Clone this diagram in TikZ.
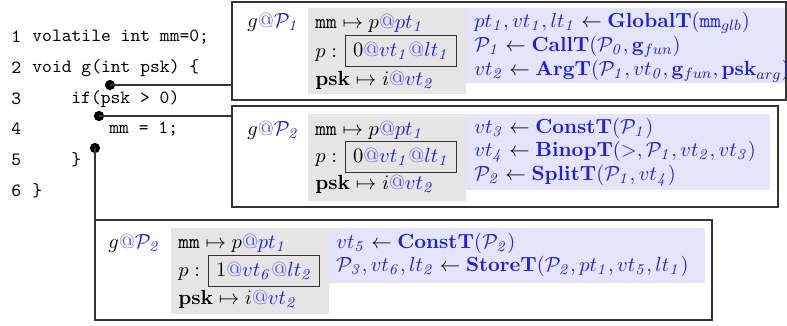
\documentclass[tikz,border=0pt]{standalone}
\usepackage{amsmath,amssymb}
\definecolor{varblue}{RGB}{30,30,225}
\definecolor{atblue}{RGB}{80,80,240}
\definecolor{lavbg}{RGB}{228,228,252}
\definecolor{greybg}{RGB}{229,229,229}
\newcommand{\tat}{\mathord{\textcolor{atblue}{@}}}
\newcommand{\bv}[1]{\textcolor{varblue}{#1}}
\newcommand{\sbi}[1]{_{\mathit{#1}}}
\newcommand{\Pc}[1]{\mathcal{P}\sbi{#1}}
\newcommand{\mapl}[2]{#1 \mapsto #2}
\newcommand{\mfont}{\fontsize{10.95}{13}\selectfont}
\begin{document}
\begin{tikzpicture}[x=0.535pt,y=-0.535pt,
  codeline/.style={anchor=west,inner sep=0pt,font=\ttfamily},
  frame/.style={draw=black!80,line width=0.6pt},
  greyfill/.style={fill=greybg},
  lavfill/.style={fill=lavbg},
  valbox/.style={draw=black!80,line width=0.6pt,inner xsep=4pt,inner ysep=2pt,minimum height=17pt,font=\mfont},
  mtext/.style={anchor=base west,inner sep=0pt,font=\mfont,text height=7pt,text depth=1.5pt},
  link/.style={line width=0.7pt,black!80},
  pin/.style={circle,fill=black,inner sep=0pt,minimum size=5.5pt}]
\useasboundingbox (0,0) rectangle (787,325);

% source listing
\foreach \n/\y in {1/37,2/68,3/99,4/129,5/160,6/191}
  \node[codeline] (ln\n) at (11,\y) {\n};
\node[codeline] (c1) at (32,37) {volatile int mm=0;};
\node[codeline] (c2) at (32,68) {void g(int psk) \{};
\node[codeline] (c3) at (71,99) {if(psk > 0)};
\node[codeline] (c4) at (109,129) {mm = 1;};
\node[codeline] (c5) at (71,160) {\}};
\node[codeline] (c6) at (32,191) {\}};

% program points
\node[pin] (d1) at (110,85) {};
\node[pin] (d2) at (99,116) {};
\node[pin] (d3) at (95,148) {};

% state after entry
\draw[frame] (232,2) rectangle (786,100);
\fill[greyfill] (308,8) rectangle (466,94);
\fill[lavfill] (466,8) rectangle (785,83);
\coordinate (b1) at (232,85);
\node[mtext] (g1) at (247,27) {$g\tat\bv{\Pc{1}}$};
\node[mtext] (m1a) at (315,28) {$\mapl{\texttt{mm}}{p\tat\bv{pt\sbi{1}}}$};
\node[mtext] (m1b) at (315,57) {$p :$};
\node[valbox,anchor=west] (v1) at (345,51) {$0\tat\bv{vt\sbi{1}}\tat\bv{lt\sbi{1}}$};
\node[mtext] (m1c) at (315,85) {$\mapl{\mathbf{psk}}{i\tat\bv{vt\sbi{2}}}$};
\node[mtext] (r1a) at (474,27) {$\bv{pt\sbi{1}, vt\sbi{1}, lt\sbi{1}} \leftarrow \bv{\mathbf{GlobalT}(\texttt{mm}_{glb})}$};
\node[mtext] (r1b) at (474,51) {$\bv{\Pc{1}} \leftarrow \bv{\mathbf{CallT}(\Pc{0}, \mathbf{g}_{fun})}$};
\node[mtext] (r1c) at (474,75) {$\bv{vt\sbi{2}} \leftarrow \bv{\mathbf{ArgT}(\Pc{1}, vt\sbi{0}, \mathbf{g}_{fun}, \mathbf{psk}_{arg})}$};

% state after the condition
\draw[frame] (232,106) rectangle (778,207);
\fill[greyfill] (308,114) rectangle (466,201);
\fill[lavfill] (466,114) rectangle (770,190);
\coordinate (b2) at (232,116);
\node[mtext] (g2) at (247,135) {$g\tat\bv{\Pc{2}}$};
\node[mtext] (m2a) at (315,135) {$\mapl{\texttt{mm}}{p\tat\bv{pt\sbi{1}}}$};
\node[mtext] (m2b) at (315,162) {$p :$};
\node[valbox,anchor=west] (v2) at (345,157) {$0\tat\bv{vt\sbi{1}}\tat\bv{lt\sbi{1}}$};
\node[mtext] (m2c) at (315,189) {$\mapl{\mathbf{psk}}{i\tat\bv{vt\sbi{2}}}$};
\node[mtext] (r2a) at (474,133) {$\bv{vt\sbi{3}} \leftarrow \bv{\mathbf{ConstT}(\Pc{1})}$};
\node[mtext] (r2b) at (474,156) {$\bv{vt\sbi{4}} \leftarrow \bv{\mathbf{BinopT}(>, \Pc{1}, vt\sbi{2}, vt\sbi{3})}$};
\node[mtext] (r2c) at (474,180) {$\bv{\Pc{2}} \leftarrow \bv{\mathbf{SplitT}(\Pc{1}, vt\sbi{4})}$};

% state after the store
\draw[frame] (95,220) rectangle (712,320);
\fill[greyfill] (171,228) rectangle (329,314);
\fill[lavfill] (329,228) rectangle (705,283);
\coordinate (b3) at (95,220);
\node[mtext] (g3) at (108,248) {$g\tat\bv{\Pc{2}}$};
\node[mtext] (m3a) at (178,248) {$\mapl{\texttt{mm}}{p\tat\bv{pt\sbi{1}}}$};
\node[mtext] (m3b) at (178,276) {$p :$};
\node[valbox,anchor=west] (v3) at (208,271) {$1\tat\bv{vt\sbi{6}}\tat\bv{lt\sbi{2}}$};
\node[mtext] (m3c) at (178,304) {$\mapl{\mathbf{psk}}{i\tat\bv{vt\sbi{2}}}$};
\node[mtext] (r3a) at (336,248) {$\bv{vt\sbi{5}} \leftarrow \bv{\mathbf{ConstT}(\Pc{2})}$};
\node[mtext] (r3b) at (336,271) {$\bv{\Pc{3}, vt\sbi{6}, lt\sbi{2}} \leftarrow \bv{\mathbf{StoreT}(\Pc{2}, pt\sbi{1}, vt\sbi{5}, lt\sbi{1})}$};

% connectors from program points to states
\draw[link] (d1.center) -- (b1);
\draw[link] (d2.center) -- (b2);
\draw[link] (d3.center) -- (b3);
\end{tikzpicture}
\end{document}
